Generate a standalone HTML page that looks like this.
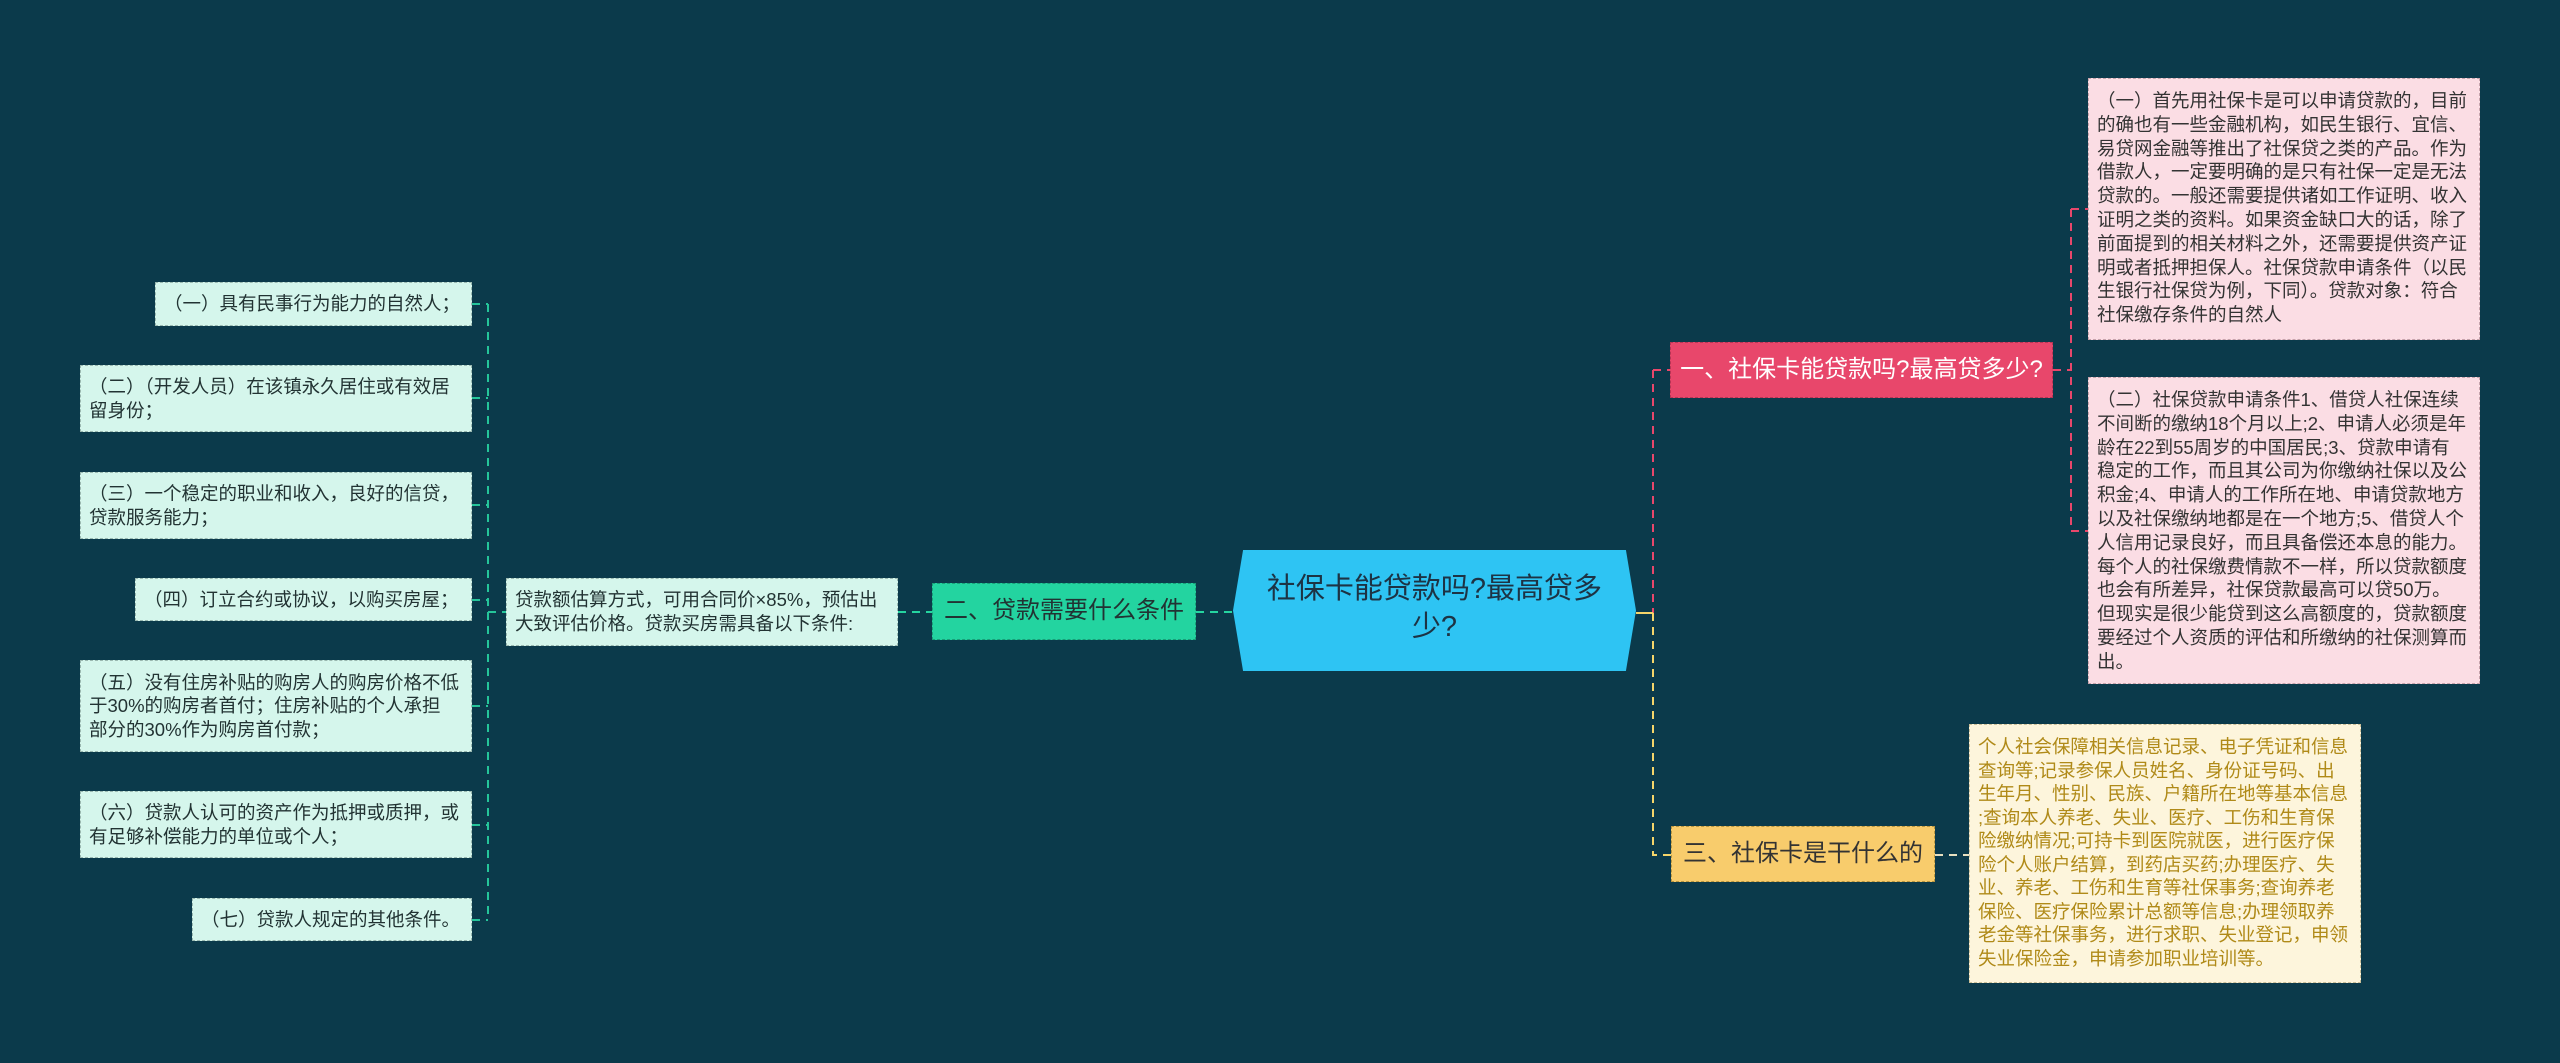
<!DOCTYPE html>
<html><head><meta charset="utf-8">
<style>
html,body{margin:0;padding:0;}
body{width:2560px;height:1063px;background:#0b3a4b;position:relative;overflow:hidden;font-family:"Liberation Sans","Noto Sans CJK SC",sans-serif;}
.b{position:absolute;box-sizing:border-box;white-space:nowrap;}
.lf{background:#d5f6ec;border:1.5px dashed #9ab8b0;color:#233;font-size:18.5px;line-height:23.6px;padding:0 8px;display:flex;align-items:center;}
.pk{background:#fbdde4;border:1.5px dashed #c7a3ac;color:#333;font-size:18.5px;line-height:23.8px;padding:10px 8px;}
.yl{background:#fdf5dc;border:1.5px dashed #cbbf98;color:#b08a18;font-size:18.5px;line-height:23.5px;padding:10px 8px;}
svg{position:absolute;left:0;top:0;}
</style></head><body>
<svg width="2560" height="1063">
<g fill="none" stroke-width="2" stroke-dasharray="8,6">
<path d="M1653 370 V613 M1653 370 H1670" stroke="#e8476b"/>
<path d="M1653 613 V855 H1671" stroke="#f5d56a"/>
<path d="M1636 613 H1653" stroke="#f5d56a" stroke-dasharray="none"/>
<path d="M2053 370 H2071 M2071 209 V531 M2071 209 H2088 M2071 531 H2088" stroke="#e8476b"/>
<path d="M1935 855 H1969" stroke="#e8e0c0"/>
<path d="M1196 612 H1233" stroke="#25d5a0"/>
<path d="M898 612 H932" stroke="#25d5a0"/>
<path d="M488 304 V920 M472 304 H488 M472 398 H488 M472 505 H488 M472 600 H488 M472 706 H488 M472 825 H488 M472 920 H488 M488 612 H506" stroke="#25c59a"/>
</g>
</svg>

<div class="b" style="left:1233px;top:550px;width:403px;height:121px;background:#2ec4f3;clip-path:polygon(2.5% 0,97.5% 0,100% 50%,97.5% 100%,2.5% 100%,0 50%);color:#1d3344;font-size:29px;line-height:38px;text-align:center;padding-top:20px;">社保卡能贷款吗?最高贷多<br>少?</div>

<div class="b" style="left:1670px;top:342px;width:383px;height:56px;background:#e8476b;border:1.5px dashed #b73454;color:#fff;font-size:24px;line-height:53px;text-align:center;">一、社保卡能贷款吗?最高贷多少?</div>
<div class="b" style="left:1671px;top:826px;width:264px;height:56px;background:#f8cc6c;border:1.5px dashed #b99540;color:#333;font-size:24px;line-height:53px;text-align:center;">三、社保卡是干什么的</div>
<div class="b" style="left:932px;top:583px;width:264px;height:57px;background:#23d4a0;border:1.5px dashed #1a9e78;color:#233;font-size:24px;line-height:54px;text-align:center;">二、贷款需要什么条件</div>

<div class="b pk" style="left:2088px;top:78px;width:392px;height:262px;">（一）首先用社保卡是可以申请贷款的，目前<br>的确也有一些金融机构，如民生银行、宜信、<br>易贷网金融等推出了社保贷之类的产品。作为<br>借款人，一定要明确的是只有社保一定是无法<br>贷款的。一般还需要提供诸如工作证明、收入<br>证明之类的资料。如果资金缺口大的话，除了<br>前面提到的相关材料之外，还需要提供资产证<br>明或者抵押担保人。社保贷款申请条件（以民<br>生银行社保贷为例，下同）。贷款对象：符合<br>社保缴存条件的自然人</div>
<div class="b pk" style="left:2088px;top:377px;width:392px;height:307px;padding-top:10px;">（二）社保贷款申请条件1、借贷人社保连续<br>不间断的缴纳18个月以上;2、申请人必须是年<br>龄在22到55周岁的中国居民;3、贷款申请有<br>稳定的工作，而且其公司为你缴纳社保以及公<br>积金;4、申请人的工作所在地、申请贷款地方<br>以及社保缴纳地都是在一个地方;5、借贷人个<br>人信用记录良好，而且具备偿还本息的能力。<br>每个人的社保缴费情款不一样，所以贷款额度<br>也会有所差异，社保贷款最高可以贷50万。<br>但现实是很少能贷到这么高额度的，贷款额度<br>要经过个人资质的评估和所缴纳的社保测算而<br>出。</div>
<div class="b yl" style="left:1969px;top:724px;width:392px;height:259px;">个人社会保障相关信息记录、电子凭证和信息<br>查询等;记录参保人员姓名、身份证号码、出<br>生年月、性别、民族、户籍所在地等基本信息<br>;查询本人养老、失业、医疗、工伤和生育保<br>险缴纳情况;可持卡到医院就医，进行医疗保<br>险个人账户结算，到药店买药;办理医疗、失<br>业、养老、工伤和生育等社保事务;查询养老<br>保险、医疗保险累计总额等信息;办理领取养<br>老金等社保事务，进行求职、失业登记，申领<br>失业保险金，申请参加职业培训等。</div>

<div class="b lf" style="left:506px;top:578px;width:392px;height:68px;">贷款额估算方式，可用合同价×85%，预估出<br>大致评估价格。贷款买房需具备以下条件:</div>

<div class="b lf" style="left:155px;top:282px;width:317px;height:44px;">（一）具有民事行为能力的自然人；</div>
<div class="b lf" style="left:80px;top:365px;width:392px;height:67px;">（二）（开发人员）在该镇永久居住或有效居<br>留身份；</div>
<div class="b lf" style="left:80px;top:472px;width:392px;height:67px;">（三）一个稳定的职业和收入，良好的信贷，<br>贷款服务能力；</div>
<div class="b lf" style="left:135px;top:578px;width:337px;height:43px;">（四）订立合约或协议，以购买房屋；</div>
<div class="b lf" style="left:80px;top:660px;width:392px;height:92px;">（五）没有住房补贴的购房人的购房价格不低<br>于30%的购房者首付；住房补贴的个人承担<br>部分的30%作为购房首付款；</div>
<div class="b lf" style="left:80px;top:791px;width:392px;height:67px;">（六）贷款人认可的资产作为抵押或质押，或<br>有足够补偿能力的单位或个人；</div>
<div class="b lf" style="left:192px;top:898px;width:280px;height:43px;">（七）贷款人规定的其他条件。</div>
</body></html>
